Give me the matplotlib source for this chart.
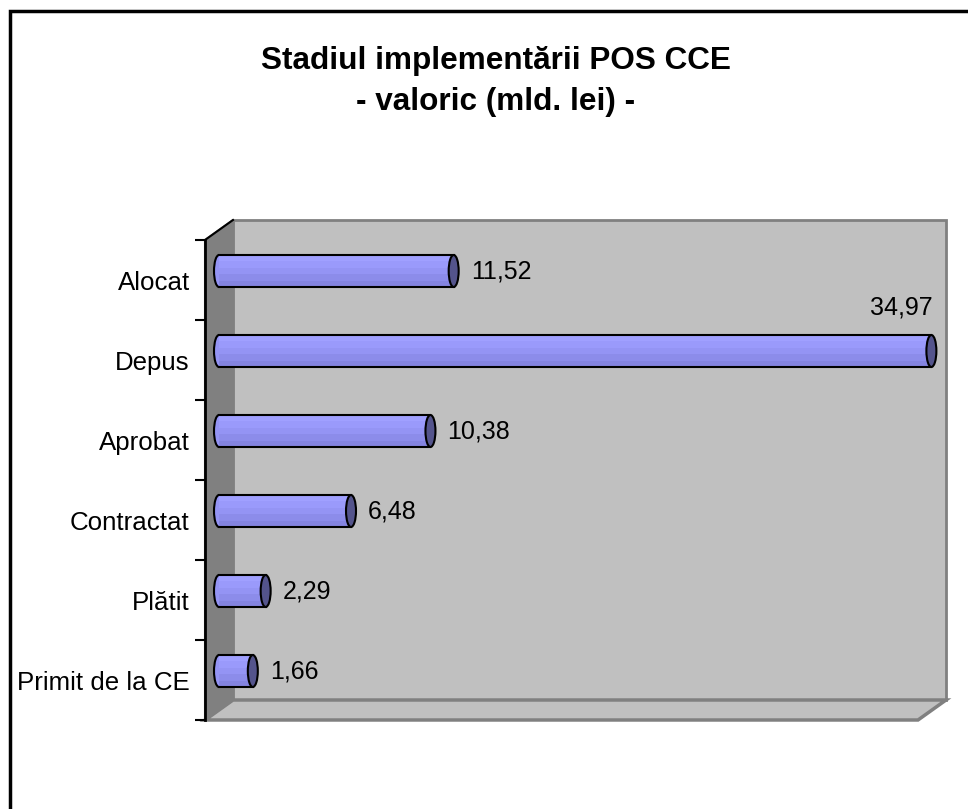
import matplotlib
matplotlib.use("Agg")
import matplotlib.pyplot as plt
from matplotlib.patches import Rectangle, Polygon, Ellipse
from matplotlib.transforms import offset_copy

categories = ["Alocat", "Depus", "Aprobat", "Contractat", "Plătit", "Primit de la CE"]
values = [11.52, 34.97, 10.38, 6.48, 2.29, 1.66]
title_lines = ["Stadiul implementării POS CCE", "- valoric (mld. lei) -"]

FONT = "Liberation Sans"
W, H = 968, 809
fig = plt.figure(figsize=(W / 100, H / 100), dpi=100)

# front plane of the 3D box
x0, x1, ytop, ybot = 205, 918, 240, 720
ax = fig.add_axes([x0 / W, 1 - ybot / H, (x1 - x0) / W, (ybot - ytop) / H])
ax.set_xlim(0, 35)
ax.set_ylim(len(categories) - 0.5, -0.5)
ax.patch.set_visible(False)

# depth offsets (pixels)
DX, DY = 28, 20
dxf, dyf = DX / (x1 - x0), DY / (ybot - ytop)

wall_c = "#c0c0c0"
edge_c = "#808080"
# back wall
ax.add_patch(Rectangle((dxf, dyf), 1, 1, transform=ax.transAxes, facecolor=wall_c,
                       edgecolor=edge_c, lw=2, clip_on=False, zorder=0))
# floor
ax.add_patch(Polygon([(0, 0), (1, 0), (1 + dxf, dyf), (dxf, dyf)], closed=True,
                     transform=ax.transAxes, facecolor=wall_c, edgecolor=edge_c, lw=2.5,
                     clip_on=False, zorder=0.5))
# left wall
ax.add_patch(Polygon([(0, 0), (0, 1), (dxf, 1 + dyf), (dxf, dyf)], closed=True,
                     transform=ax.transAxes, facecolor="#808080", edgecolor=edge_c, lw=1.5,
                     clip_on=False, zorder=0.6))
ax.plot([0, dxf], [1, 1 + dyf], transform=ax.transAxes, color="black", lw=1.5,
        clip_on=False, zorder=1)

# axis
for s in ["top", "right", "bottom"]:
    ax.spines[s].set_visible(False)
ax.spines["left"].set_linewidth(2)
ax.spines["left"].set_zorder(2)
ax.set_xticks([])
ax.set_yticks(range(len(categories)))
ax.set_yticklabels(categories, fontsize=18.6, family=FONT)
ax.tick_params(axis="y", which="major", length=0, pad=11)
ax.set_yticks([i - 0.5 for i in range(len(categories) + 1)], minor=True)
ax.tick_params(axis="y", which="minor", length=7, width=1.5, direction="out")

# bars (cylinders) at mid-depth
trans = offset_copy(ax.transData, fig=fig, x=DX / 2, y=DY / 2 - 1, units="dots")
h = 0.4
cap_w = 10 / ((x1 - x0) / 35)
bands = ["#a0a0ff", "#9a9afb", "#9494f4", "#8c8cea", "#8484e0"]
nb = len(bands)
for i, v in enumerate(values):
    # left rounded end
    ax.add_patch(Ellipse((0, i), cap_w, h, transform=trans, facecolor="#9494f4",
                         edgecolor="black", lw=1.5, zorder=3, clip_on=False))
    for k, c in enumerate(bands):
        yb = i - h / 2 + k * h / nb
        ax.add_patch(Rectangle((0, yb), v, h / nb, transform=trans, facecolor=c,
                               edgecolor="none", zorder=4, clip_on=False))
    ax.plot([0, v], [i - h / 2, i - h / 2], transform=trans, color="black", lw=1.5,
            zorder=5, clip_on=False)
    ax.plot([0, v], [i + h / 2, i + h / 2], transform=trans, color="black", lw=1.5,
            zorder=5, clip_on=False)
    ax.add_patch(Ellipse((v, i), cap_w, h, transform=trans, facecolor="#54548c",
                         edgecolor="black", lw=1.5, zorder=6, clip_on=False))
    label = f"{v:.2f}".replace(".", ",")
    if v > 30:
        ax.annotate(label, xy=(v, i), xycoords=trans, xytext=(1, 44),
                    textcoords="offset pixels", ha="right", va="center",
                    fontsize=18, family=FONT, zorder=7)
    else:
        ax.annotate(label, xy=(v, i), xycoords=trans, xytext=(17, 0),
                    textcoords="offset pixels", ha="left", va="center",
                    fontsize=18, family=FONT, zorder=7)

# titles
fig.text(496 / W, 1 - 61 / H, title_lines[0], ha="center", va="center",
         fontsize=22.7, fontweight="bold", family=FONT)
fig.text(496 / W, 1 - 102 / H, title_lines[1], ha="center", va="center",
         fontsize=22.7, fontweight="bold", family=FONT)

# outer frame
fig.patches.append(Rectangle((9.5 / W, -0.1), 1.2, 1 - 11.5 / H + 0.1,
                             transform=fig.transFigure, fill=False,
                             edgecolor="black", lw=2.5))

fig.savefig("out.png", dpi=100)
